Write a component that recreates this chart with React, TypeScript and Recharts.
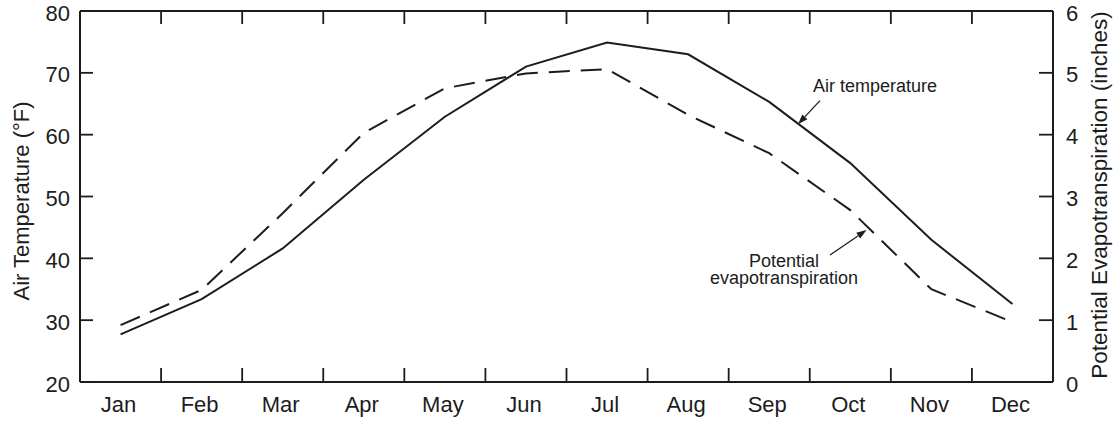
import React from 'react';
import { LineChart, Line, XAxis, YAxis, ReferenceLine, Label } from 'recharts';

const months = ['Jan', 'Feb', 'Mar', 'Apr', 'May', 'Jun', 'Jul', 'Aug', 'Sep', 'Oct', 'Nov', 'Dec'];
const airTemperature = [27.7, 33.4, 41.6, 52.7, 62.9, 71.0, 74.9, 73.0, 65.3, 55.4, 43.0, 32.6];
const potentialET = [0.92, 1.49, 2.73, 4.03, 4.75, 4.99, 5.06, 4.32, 3.70, 2.78, 1.50, 0.97];
const tempTicks = [20, 30, 40, 50, 60, 70, 80];
const petTicks = [0, 1, 2, 3, 4, 5, 6];

const monthPositions = months.map((_, i) => i + 0.5);
const boundaryPositions = months.slice(1).map((_, i) => i + 1);
const bottomTicks = [...monthPositions, ...boundaryPositions].sort((a, b) => a - b);

const data = months.map((m, i) => ({
  x: i + 0.5,
  month: m,
  temp: airTemperature[i],
  pet: potentialET[i],
}));

const FONT = '"Liberation Sans", Arial, Helvetica, sans-serif';
const INK = '#1c1c1c';

const BottomTick = (props: any) => {
  const { x, y, payload } = props;
  const v = payload.value;
  if (Number.isInteger(v)) {
    return <line x1={x} x2={x} y1={y} y2={y - 14} stroke={INK} strokeWidth={1.8} />;
  }
  return (
    <text x={x - 2} y={y + 30} textAnchor="middle" fontFamily={FONT} fontSize={22} fill={INK}>
      {months[Math.floor(v)]}
    </text>
  );
};

const TopTick = (props: any) => {
  const { x, y } = props;
  return <line x1={x} x2={x} y1={y} y2={y + 13} stroke={INK} strokeWidth={1.8} />;
};

const LeftTick = (props: any) => {
  const { x, y, payload } = props;
  return (
    <g>
      <line x1={x} x2={x + 13} y1={y} y2={y} stroke={INK} strokeWidth={1.8} />
      <text x={x - 10} y={y + 9.5} textAnchor="end" fontFamily={FONT} fontSize={22} fill={INK}>
        {payload.value}
      </text>
    </g>
  );
};

const RightTick = (props: any) => {
  const { x, y, payload } = props;
  return (
    <g>
      <line x1={x} x2={x - 14} y1={y} y2={y} stroke={INK} strokeWidth={1.8} />
      <text x={x + 13} y={y + 9.5} textAnchor="start" fontFamily={FONT} fontSize={22} fill={INK}>
        {payload.value}
      </text>
    </g>
  );
};

const LeftTitle = (props: any) => {
  const vb = props.viewBox || { x: 0, y: 11, width: 80, height: 371 };
  const cx = vb.x + 29;
  const cy = vb.y + vb.height / 2 + 4.5;
  return (
    <text
      x={cx}
      y={cy}
      transform={`rotate(-90, ${cx}, ${cy})`}
      textAnchor="middle"
      fontFamily={FONT}
      fontSize={22}
      fill={INK}
    >
      Air Temperature (°F)
    </text>
  );
};

const RightTitle = (props: any) => {
  const vb = props.viewBox || { x: 1053, y: 11, width: 64, height: 371 };
  const cx = vb.x + 53.5;
  const cy = vb.y + vb.height / 2 - 1.5;
  return (
    <text
      x={cx}
      y={cy}
      transform={`rotate(-90, ${cx}, ${cy})`}
      textAnchor="middle"
      fontFamily={FONT}
      fontSize={22.5}
      fill={INK}
    >
      Potential Evapotranspiration (inches)
    </text>
  );
};

const makeArrow = (lines: string[], dx: number, dys: number[], fontSize: number) => (props: any) => {
  const { x1, y1, x2, y2 } = props;
  if ([x1, y1, x2, y2].some((v) => typeof v !== 'number' || Number.isNaN(v))) return <g />;
  const ang = Math.atan2(y2 - y1, x2 - x1);
  const L = 10;
  const W = 3.5;
  const bx = x2 - L * Math.cos(ang);
  const by = y2 - L * Math.sin(ang);
  const pts = `${x2},${y2} ${bx - W * Math.sin(ang)},${by + W * Math.cos(ang)} ${bx + W * Math.sin(ang)},${by - W * Math.cos(ang)}`;
  return (
    <g>
      <line x1={x1} y1={y1} x2={bx} y2={by} stroke={INK} strokeWidth={1.3} />
      <polygon points={pts} fill={INK} />
      {lines.map((t, i) => (
        <text
          key={t}
          x={x1 + dx}
          y={y1 + dys[i]}
          textAnchor="middle"
          fontFamily={FONT}
          fontSize={fontSize}
          fill={INK}
        >
          {t}
        </text>
      ))}
    </g>
  );
};

const airArrow = makeArrow(['Air temperature'], 55, [-8.4], 18);
const petArrow = makeArrow(['Potential', 'evapotranspiration'], -46, [11.7, 28.6], 18);

export default function App() {
  return (
    <div style={{ position: 'absolute', left: 0, top: 0, background: '#fff' }}>
      <LineChart width={1117} height={421} data={data} margin={{ top: 0, right: 0, bottom: 0, left: 0 }}>
        <XAxis
          xAxisId="bottom"
          dataKey="x"
          type="number"
          domain={[0, 12]}
          ticks={bottomTicks}
          interval={0}
          orientation="bottom"
          height={39}
          tickSize={0}
          tickMargin={0}
          tickLine={false}
          tick={<BottomTick />}
          axisLine={{ stroke: INK, strokeWidth: 2 }}
        />
        <XAxis
          xAxisId="top"
          dataKey="x"
          type="number"
          domain={[0, 12]}
          ticks={boundaryPositions}
          interval={0}
          orientation="top"
          height={11}
          tickSize={0}
          tickMargin={0}
          tickLine={false}
          tick={<TopTick />}
          axisLine={{ stroke: INK, strokeWidth: 2 }}
        />
        <YAxis
          yAxisId="left"
          type="number"
          domain={[20, 80]}
          ticks={tempTicks}
          interval={0}
          width={80}
          tickSize={0}
          tickMargin={0}
          tickLine={false}
          tick={<LeftTick />}
          axisLine={{ stroke: INK, strokeWidth: 2 }}
        >
          <Label content={<LeftTitle />} />
        </YAxis>
        <YAxis
          yAxisId="right"
          orientation="right"
          type="number"
          domain={[0, 6]}
          ticks={petTicks}
          interval={0}
          width={64}
          tickSize={0}
          tickMargin={0}
          tickLine={false}
          tick={<RightTick />}
          axisLine={{ stroke: INK, strokeWidth: 2 }}
        >
          <Label content={<RightTitle />} />
        </YAxis>
        <Line
          xAxisId="bottom"
          yAxisId="left"
          dataKey="temp"
          type="linear"
          stroke={INK}
          strokeWidth={2}
          dot={false}
          activeDot={false}
          isAnimationActive={false}
        />
        <Line
          xAxisId="top"
          yAxisId="right"
          dataKey="pet"
          type="linear"
          stroke={INK}
          strokeWidth={2}
          strokeDasharray="21 11"
          dot={false}
          activeDot={false}
          isAnimationActive={false}
        />
        <ReferenceLine
          xAxisId="bottom"
          yAxisId="left"
          segment={[
            { x: 9.126, y: 65.5 },
            { x: 8.855, y: 61.7 },
          ]}
          shape={airArrow}
        />
        <ReferenceLine
          xAxisId="top"
          yAxisId="right"
          segment={[
            { x: 9.25, y: 2.054 },
            { x: 9.7, y: 2.458 },
          ]}
          shape={petArrow}
        />
      </LineChart>
    </div>
  );
}
